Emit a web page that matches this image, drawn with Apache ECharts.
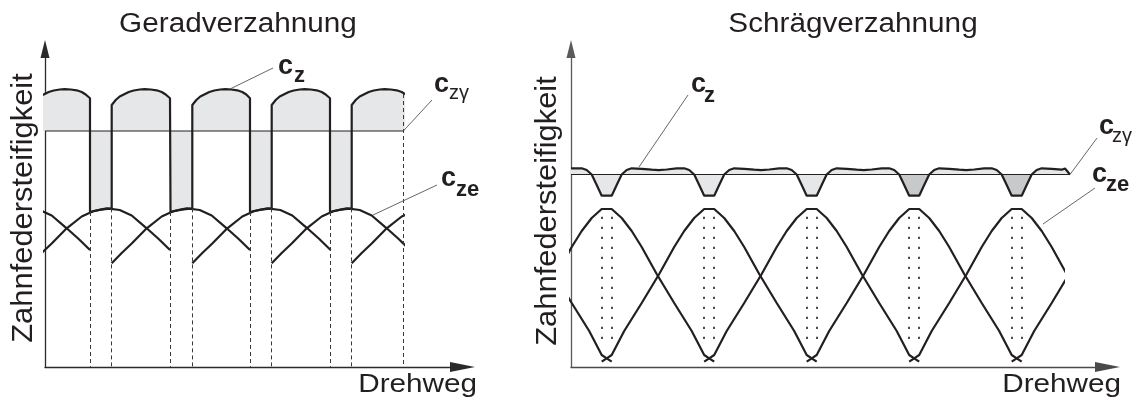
<!DOCTYPE html>
<html><head><meta charset="utf-8">
<script src="https://cdn.jsdelivr.net/npm/echarts@6/dist/echarts.min.js"></script>
<style>html,body{margin:0;padding:0;background:#fff}#c{width:1140px;height:403px}</style>
</head><body><div id="c"></div>
<script>
// ================= DATA (arbitrary stiffness / rotation-path units) =================
// ---- Geradverzahnung (left) ----
const L_czGamma   = 236;                       // mean mesh stiffness c_zγ
const L_end       = 358.3;                     // end of drawn rotation path
const L_dipStart  = [45, 125.5, 205, 285];     // begin of single tooth contact
const L_dipEnd    = [66.7, 147.3, 226.7, 306.7]; // end of single tooth contact
const L_dipBottom = [155, 157.3, 158.6];       // c_z during single contact (start, mid, end)
const L_arcStarts = [-13.3, 66.7, 147.3, 226.7, 306.7]; // begin of double contact
const L_arcDx     = [0, 4, 8, 12, 17, 22, 28, 33, 39, 45, 50, 54, 58.3];
const L_arcVal    = [262, 267, 270.5, 272.5, 275, 276.5, 277.5, 277.8, 277.5, 276.7, 275, 272.5, 268.7];
const L_toothStarts = [-93.3, -13.3, 66.7, 147.3, 226.7, 306.7]; // single tooth c_ze curves
const L_toothDx   = [0, 10, 20, 35, 50, 62, 75, 88, 100, 115, 127, 138.3];
const L_toothVal  = [103.7, 114, 123.5, 138.7, 150.5, 156, 158.7, 157, 151.5, 138.7, 128, 117];
const L_endDashTop = 273;

// ---- Schrägverzahnung (right) ----
const R_czGamma   = 192.5;
const R_czEnd     = 499;
const R_czeEnd    = 492;
const R_dipCenters = [35.7, 138.2, 240.7, 343.2, 445.7];
const R_dipDx     = [-25, -20, -15, -10, -5, 5, 10, 15, 20, 25];
const R_dipVal    = [198.7, 197, 192.5, 182, 171.3, 171.3, 182, 192.5, 197, 198.7];
const R_rippleDx  = [35, 45, 52, 60, 70];
const R_rippleVal = [198.2, 197.3, 196.8, 197.5, 198.7];
const R_czHeadVal = 198.7;
const R_czTailX   = [480.7, 490.7, 494, 499];
const R_czTailVal = [198.2, 197.3, 198.5, 192.5];
const R_darkDips  = [3, 4];
const R_toothStarts = [-169.3, -66.8, 35.7, 138.2, 240.7, 343.2, 445.7];
const R_toothDx   = [-5, 0, 5, 17.5, 35, 52.5, 67.5, 77.5, 87.5, 97.5, 107.5, 117.5, 127.5, 137.5, 152.5, 170, 187.5, 200, 205, 210];
const R_toothVal  = [5.3, 8.7, 12, 36, 64, 93, 120, 136, 149, 158, 158, 149, 136, 120, 93, 64, 36, 12, 8.7, 5.3];
const R_dotHalf   = 5;
const R_dotRange  = [150.3, 25.3];

// ---- texts ----
const T_titles = ['Geradverzahnung', 'Schrägverzahnung'];
const T_yName = 'Zahnfedersteifigkeit';
const T_xName = 'Drehweg';

// ================= BUILD =================
const INK = '#231f20', FILL = '#e6e7e8', FILL_DARK = '#c8c9ca', LEAD = '#555';
const shift = (s, dx, v) => dx.map((d, i) => [s + d, v[i]]);

const czL = [];
L_arcStarts.forEach((e, i) => {
  const stop = i < L_dipStart.length ? L_dipStart[i] : Infinity;
  L_arcDx.forEach((d, j) => { if (e + d < stop) czL.push([e + d, L_arcVal[j]]); });
  if (i < L_dipStart.length) {
    const ds = L_dipStart[i], de = L_dipEnd[i];
    czL.push([ds, L_arcVal[L_arcVal.length - 1]], [ds, L_dipBottom[0]], [(ds + de) / 2, L_dipBottom[1]], [de, L_dipBottom[2]]);
  }
});

const czR = [[0, R_czHeadVal]];
R_dipCenters.forEach((c, i) => {
  czR.push(...shift(c, R_dipDx, R_dipVal));
  if (i < R_dipCenters.length - 1) czR.push(...shift(c, R_rippleDx, R_rippleVal));
});
R_czTailX.forEach((x, j) => czR.push([x, R_czTailVal[j]]));

const lineBase = { type: 'line', symbol: 'none', silent: true, animation: false };
const seg = (x1, y1, x2, y2) => [{ coord: [x1, y1] }, { coord: [x2, y2] }];
const ml = (data, style) => ({ silent: true, symbol: ['none', 'none'], label: { show: false }, emphasis: { disabled: true }, animation: false, lineStyle: style, data });

const leftDashes = [];
L_dipStart.forEach(x => leftDashes.push(seg(x, L_dipBottom[0], x, 0)));
L_dipEnd.forEach(x => leftDashes.push(seg(x, L_dipBottom[2], x, 0)));
leftDashes.push(seg(L_end, L_endDashTop, L_end, 0));

const rightDots = [];
R_dipCenters.forEach(c => [-R_dotHalf, R_dotHalf].forEach(h => rightDots.push(seg(c + h, R_dotRange[0], c + h, R_dotRange[1]))));

const series = [];
// left
series.push(Object.assign({}, lineBase, { xAxisIndex: 1, yAxisIndex: 1, data: czL, z: 2,
  lineStyle: { color: INK, width: 2.2 }, areaStyle: { origin: L_czGamma, color: FILL, opacity: 1 } }));
series.push(Object.assign({}, lineBase, { xAxisIndex: 1, yAxisIndex: 1, z: 3,
  data: [[0, L_czGamma], [L_end, L_czGamma]], lineStyle: { color: INK, width: 1 },
  markLine: ml(leftDashes, { type: [4, 3], color: '#3a3a3a', width: 1 }) }));
L_toothStarts.forEach(s => series.push(Object.assign({}, lineBase, { xAxisIndex: 1, yAxisIndex: 1, z: 4,
  data: shift(s, L_toothDx, L_toothVal), lineStyle: { color: INK, width: 2.2 } })));
series.push(Object.assign({}, lineBase, { xAxisIndex: 0, yAxisIndex: 0, data: [[0, 0]], lineStyle: { width: 0 },
  markLine: ml([seg(185, 278, 228, 299), seg(358.3, 236, 387, 267), seg(328, 152, 392, 182)], { type: 'solid', color: LEAD, width: 0.9 }) }));
// right
series.push(Object.assign({}, lineBase, { xAxisIndex: 2, yAxisIndex: 2, data: czR, z: 1,
  lineStyle: { width: 0 }, areaStyle: { origin: R_czGamma, color: FILL, opacity: 1 } }));
R_darkDips.forEach(i => series.push(Object.assign({}, lineBase, { xAxisIndex: 2, yAxisIndex: 2, z: 1,
  data: shift(R_dipCenters[i], R_dipDx.slice(2, 8), R_dipVal.slice(2, 8)), lineStyle: { width: 0 },
  areaStyle: { origin: R_czGamma, color: FILL_DARK, opacity: 1 } })));
series.push(Object.assign({}, lineBase, { xAxisIndex: 2, yAxisIndex: 2, z: 3,
  data: [[0, R_czGamma], [R_czEnd, R_czGamma]], lineStyle: { color: INK, width: 1 },
  markLine: ml([seg(68, 200, 117, 272), seg(499, 192.5, 526, 229), seg(472, 143, 524, 179)], { type: 'solid', color: LEAD, width: 0.9 }) }));
series.push(Object.assign({}, lineBase, { xAxisIndex: 2, yAxisIndex: 2, z: 4, data: czR,
  lineStyle: { color: INK, width: 2.2 } }));
R_toothStarts.forEach((s, k) => series.push(Object.assign({}, lineBase, { xAxisIndex: 3, yAxisIndex: 3, z: 4,
  data: shift(s, R_toothDx, R_toothVal), lineStyle: { color: INK, width: 2.2 },
  markLine: k === 0 ? ml(rightDots, { type: [2.2, 7.8], color: '#222', width: 1.6 }) : undefined })));

const hidden = { show: false };
const axisX = (g, max, color) => ({ type: 'value', gridIndex: g, min: 0, max,
  axisLine: { show: true, onZero: false, symbol: ['none', 'triangle'], symbolSize: [10, 25], lineStyle: { color, width: 1.3 } },
  axisTick: hidden, axisLabel: hidden, splitLine: hidden });
const axisY = (g, color) => ({ type: 'value', gridIndex: g, min: 0, max: 318,
  axisLine: { show: true, onZero: false, symbol: ['none', 'triangle'], symbolSize: [9, 18], lineStyle: { color, width: 1.3 } },
  axisTick: hidden, axisLabel: hidden, splitLine: hidden });
const hidX = (g, max) => ({ type: 'value', gridIndex: g, min: 0, max, show: false });
const hidY = g => ({ type: 'value', gridIndex: g, min: 0, max: 318, show: false });

const txt = (x, y, text, size, opts = {}) => ({
  type: 'text', x, y, rotation: opts.rot || 0, scaleX: opts.sx || 1, silent: true, z: 100,
  style: { text, fill: opts.fill || INK,
    font: (opts.bold ? 'bold ' : '') + size + 'px "Liberation Sans", Arial, sans-serif',
    align: opts.align || 'left', textAlign: opts.align || 'left',
    verticalAlign: 'middle', textVerticalAlign: 'middle' }
});

const graphic = [
  txt(238, 24.6, T_titles[0], 27, { align: 'center', sx: 1.1 }),
  txt(853, 24.6, T_titles[1], 27, { align: 'center', sx: 1.1 }),
  txt(24, 208, T_yName, 29, { align: 'center', sx: 1.065, rot: Math.PI / 2 }),
  txt(548, 211, T_yName, 29, { align: 'center', sx: 1.065, rot: Math.PI / 2 }),
  txt(477, 384.8, T_xName, 26.5, { align: 'right', sx: 1.12 }),
  txt(1121, 384.8, T_xName, 26.5, { align: 'right', sx: 1.12 }),
  // left labels
  txt(278, 66.6, 'c', 27, { bold: true }), txt(294, 76.2, 'z', 22, { bold: true }),
  txt(434, 84.6, 'c', 27, { bold: true }), txt(449, 93.8, 'zγ', 20),
  txt(441, 178.6, 'c', 27, { bold: true }), txt(456, 190.2, 'ze', 22, { bold: true }),
  // right labels
  txt(691, 84.6, 'c', 27, { bold: true }), txt(704, 96.2, 'z', 22, { bold: true }),
  txt(1099, 126.6, 'c', 27, { bold: true }), txt(1112, 136.8, 'zγ', 20),
  txt(1092, 174.6, 'c', 27, { bold: true }), txt(1106, 185.2, 'ze', 22, { bold: true })
];

const chart = echarts.init(document.getElementById('c'), null, { renderer: 'canvas' });
chart.setOption({
  animation: false,
  backgroundColor: '#fff',
  grid: [
    { left: 45, top: 49, width: 417.5, height: 318 },
    { left: 45, top: 49, width: L_end, height: 318 },
    { left: 571, top: 49, width: 536.5, height: 318 },
    { left: 571, top: 49, width: R_czeEnd, height: 318 }
  ],
  xAxis: [axisX(0, 417.5, '#2a2a2a'), hidX(1, L_end), axisX(2, 536.5, '#4a4a4a'), hidX(3, R_czeEnd)],
  yAxis: [axisY(0, '#2a2a2a'), hidY(1), axisY(2, '#5a5a5a'), hidY(3)],
  series,
  graphic
});
</script>
</body></html>
